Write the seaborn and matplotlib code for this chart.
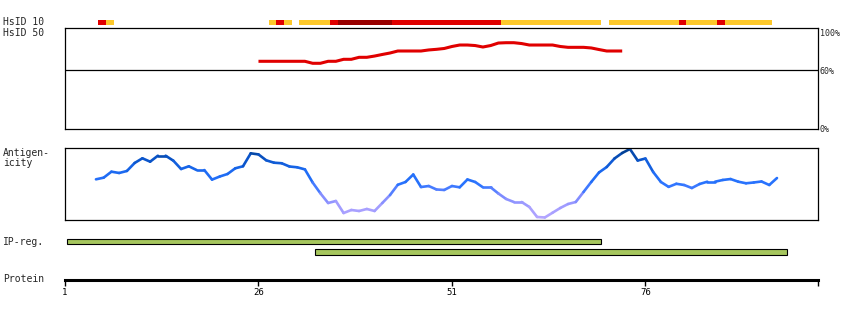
import matplotlib
matplotlib.use("Agg")
import matplotlib.pyplot as plt
import seaborn as sns
import pandas as pd
import numpy as np
from matplotlib.collections import LineCollection
from matplotlib.colors import LinearSegmentedColormap

# ---------------- data ----------------
PROTEIN_LENGTH = 98
tick_positions = [1, 26, 51, 76]
tick_labels = ["1", "26", "51", "76"]

hsid10_start = [6, 7, 28, 29, 30, 32, 36, 37, 44, 58, 72, 81, 82, 86, 87]
hsid10_end = [6, 7, 28, 29, 30, 35, 36, 43, 57, 70, 80, 81, 85, 86, 92]
hsid10_level = ["red", "yellow", "yellow", "red", "yellow", "yellow", "red",
                "darkred", "red", "yellow", "yellow", "red", "yellow", "red", "yellow"]

hsid50_residues = list(range(26, 74))
hsid50_values = [68.3, 68.3, 68.3, 68.3, 68.3, 68.3, 68.3, 66.4, 66.4, 68.3, 68.3,
                 70.2, 70.2, 72.1, 72.1, 73.3, 74.8, 76.2, 78.1, 78.1, 78.1, 78.1,
                 79.1, 79.7, 80.5, 82.4, 83.8, 83.8, 83.3, 81.9, 83.3, 85.7, 86.0,
                 86.0, 85.2, 83.8, 83.8, 83.8, 83.8, 82.4, 81.6, 81.6, 81.6, 81.0,
                 79.5, 78.1, 78.1, 78.1]

antigen_residues = list(range(5, 94))
antigen_values = [56.5, 58.8, 67.1, 65.3, 68.1, 79.2, 85.7, 81.0, 89.3, 89.3,
                  82.4, 70.8, 74.6, 69.4, 69.4, 56.1, 60.4, 63.9, 71.8, 74.6,
                  92.6, 91.1, 82.9, 79.6, 78.8, 74.3, 73.2, 70.3, 52.1, 37.1,
                  23.6, 26.4, 9.7, 13.9, 12.5, 15.3, 12.5, 23.6, 34.7, 48.9,
                  52.8, 63.2, 45.8, 47.2, 42.4, 41.7, 47.2, 45.4, 56.3, 52.8,
                  45.4, 45.4, 36.8, 29.2, 25.0, 25.0, 18.1, 4.2, 3.5, 10.1,
                  16.7, 22.2, 25.0, 38.9, 52.8, 66.0, 73.6, 85.4, 93.1, 98.6,
                  82.6, 85.4, 66.7, 52.8, 46.0, 50.3, 48.6, 44.4, 50.0, 53.2,
                  53.2, 55.6, 56.9, 53.2, 51.0, 52.1, 53.5, 48.6, 58.3]

ipreg_start = [2, 34]
ipreg_end = [70, 94]

# ---------------- style ----------------
sns.set_style("white")
plt.rcParams["font.family"] = ["DejaVu Sans Mono", "DejaVu Sans"]

level_colors = {"yellow": "#fdc82a", "red": "#e00000", "darkred": "#990000"}
ip_color = "#a6c65e"
W, H = 850, 320
X0, X1 = 65, 818
XLIM = (1, PROTEIN_LENGTH + 0.3)


def px_axes(fig, top, bottom):
    return fig.add_axes([X0 / W, (H - bottom) / H, (X1 - X0) / W, (bottom - top) / H])


fig = plt.figure(figsize=(W / 100, H / 100), dpi=100)

# ---------------- HsID 10 bar ----------------
ax10 = px_axes(fig, 20, 25)
df10 = pd.DataFrame({"start": hsid10_start, "end": hsid10_end, "level": hsid10_level})
ax10.barh(y=np.zeros(len(df10)), width=df10["end"] - df10["start"] + 1,
          left=df10["start"] - 0.7, height=1.0,
          color=[level_colors[l] for l in df10["level"]], linewidth=0)
ax10.set_xlim(*XLIM)
ax10.set_ylim(-0.5, 0.5)
ax10.axis("off")

# ---------------- HsID 50 panel ----------------
ax50 = px_axes(fig, 28, 129)
df50 = pd.DataFrame({"residue": hsid50_residues, "identity": hsid50_values})
sns.lineplot(data=df50, x="residue", y="identity", ax=ax50, color="#e00000",
             linewidth=2.2, solid_capstyle="butt")
ax50.axhline(60, color="black", linewidth=0.9)
ax50.set_xlim(*XLIM)
ax50.set_ylim(3.85, 100)
ax50.set_xticks([])
ax50.set_yticks([])
ax50.set_xlabel("")
ax50.set_ylabel("")
for s in ax50.spines.values():
    s.set_color("black")
    s.set_linewidth(0.9)
for lab, yfrac, off in [("100%", 1.0, -5), ("60%", None, -1.5), ("0%", 0.0, 0)]:
    if yfrac is None:
        ax50.annotate(lab, xy=(1, 60), xycoords=("axes fraction", "data"),
                      xytext=(2, off), textcoords="offset pixels",
                      va="center", ha="left", fontsize=6)
    else:
        ax50.annotate(lab, xy=(1, yfrac), xycoords="axes fraction",
                      xytext=(2, off), textcoords="offset pixels",
                      va="center", ha="left", fontsize=6)

# ---------------- Antigenicity panel ----------------
axa = px_axes(fig, 148, 220)
cmap = LinearSegmentedColormap.from_list(
    "antigen",
    [(0.0, "#b8a8ff"), (0.2, "#a09cff"), (0.35, "#7888ff"), (0.5, "#2a74ff"),
     (0.7, "#1a68ee"), (0.85, "#0a54c8"), (1.0, "#003a84")])
xa = np.array(antigen_residues, dtype=float)
ya = np.array(antigen_values, dtype=float)
pts = np.column_stack([xa, ya])
segs = np.stack([pts[:-1], pts[1:]], axis=1)
mid = (ya[:-1] + ya[1:]) / 2
lc = LineCollection(segs, colors=cmap(mid / 100.0), linewidths=1.9, capstyle="round")
axa.add_collection(lc)
axa.set_xlim(*XLIM)
axa.set_ylim(0, 100)
axa.set_xticks([])
axa.set_yticks([])
for s in axa.spines.values():
    s.set_color("black")
    s.set_linewidth(0.9)

# ---------------- IP-reg ----------------
axip = px_axes(fig, 236.25, 257.25)
dfip = pd.DataFrame({"start": ipreg_start, "end": ipreg_end})
axip.barh(y=np.arange(len(dfip)), width=dfip["end"] - dfip["start"] + 1,
          left=dfip["start"] - 0.7, height=0.5, color=ip_color,
          edgecolor="black", linewidth=0.8)
axip.set_xlim(*XLIM)
axip.set_ylim(1.5, -0.5)
axip.axis("off")

# ---------------- Protein axis ----------------
axp = fig.add_axes([X0 / W, (H - 279.5) / H, (X1 - X0) / W, 0.01])
axp.set_xlim(*XLIM)
axp.patch.set_visible(False)
for side in ["left", "right", "top"]:
    axp.spines[side].set_visible(False)
axp.spines["bottom"].set_linewidth(2.2)
axp.spines["bottom"].set_color("black")
axp.spines["bottom"].set_zorder(1)
axp.set_yticks([])
axp.set_xticks(tick_positions + [PROTEIN_LENGTH + 0.3])
axp.set_xticklabels(tick_labels + [""])
axp.tick_params(axis="x", which="major", bottom=True, direction="out", length=4.5,
                width=1.0, pad=1.8, labelsize=6.5, colors="black")

# ---------------- left labels ----------------
labels = [("HsID 10", 22), ("HsID 50", 33), ("Antigen-", 153), ("icity", 163.5),
          ("IP-reg.", 242), ("Protein", 279.5)]
for txt, y in labels:
    fig.text(3 / W, 1 - y / H, txt, va="center", ha="left", fontsize=7)

fig.savefig("out.png", dpi=100)
